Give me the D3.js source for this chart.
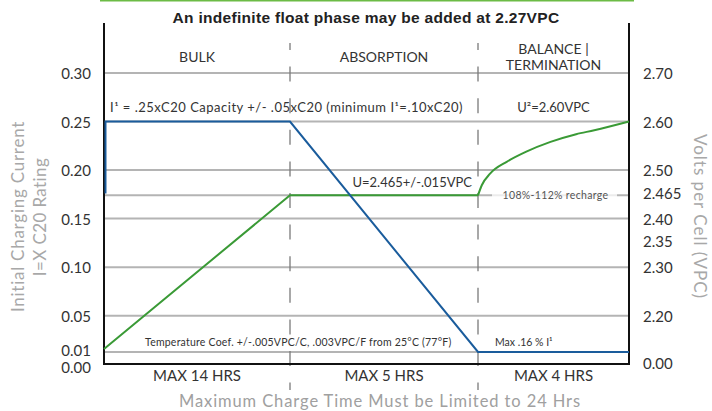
<!DOCTYPE html>
<html><head><meta charset="utf-8">
<script src="https://cdn.jsdelivr.net/npm/d3@7"></script>
<style>body{margin:0;background:#fff}svg{display:block}</style>
</head><body><svg id="c" width="712" height="411"></svg>
<script>
// ---------- data ----------
const title = "An indefinite float phase may be added at 2.27VPC";
const phaseNames = [["BULK"], ["ABSORPTION"], ["BALANCE |", "TERMINATION"]];
const phaseDurations = ["MAX 14 HRS", "MAX 5 HRS", "MAX 4 HRS"];
const phaseBounds = [0, 1, 2, 3];
const currentTicks = [0.00, 0.01, 0.05, 0.10, 0.15, 0.20, 0.25, 0.30];
const currentTickLabels = ["0.00", "0.01", "0.05", "0.10", "0.15", "0.20", "0.25", "0.30"];
const voltTicks = [0.00, 2.20, 2.30, 2.35, 2.40, 2.465, 2.50, 2.60, 2.70];
const voltTickLabels = ["0.00", "2.20", "2.30", "2.35", "2.40", "2.465", "2.50", "2.60", "2.70"];
const voltOnCurrent = [0.00, 0.05, 0.10, 0.127, 0.15, 0.174, 0.20, 0.25, 0.30];
const currentGrid = [0.01, 0.05, 0.10, 0.15, 0.20, 0.25, 0.30];
const voltGrid = [2.465];
// charging current (I x C20) vs phase position
const currentT = [0.008, 0.008, 1, 2, 3];
const currentV = [0.176, 0.25, 0.25, 0.01, 0.01];
// volts per cell vs phase position
const voltRampT = [0, 1, 2];
const voltRampV = [0.59, 2.465, 2.465];
const voltBalT = [2, 2.025, 2.08, 2.19, 2.32, 2.48, 2.65, 2.77, 3];
const voltBalV = [2.465, 2.479, 2.495, 2.517, 2.538, 2.558, 2.574, 2.582, 2.60];

// ---------- layout ----------
const FONT = "Lato, 'Open Sans', sans-serif";
const svg = d3.select("#c");
const x = d3.scaleLinear().domain(phaseBounds).range([104, 290, 478, 629]);
const y = d3.scaleLinear().domain([0, 0.01, 0.05, 0.30]).range([364, 352, 315.7, 73]);
const vToC = d3.scaleLinear().domain(voltTicks).range(voltOnCurrent);
const yV = v => y(vToC(v));
const axisTop = 23, axisBottom = y(0);

// top green rule
svg.append("line").attr("x1", 100).attr("x2", 634).attr("y1", 0.5).attr("y2", 0.5)
  .attr("stroke", "#6cbb45").attr("stroke-width", 2);

// title
svg.append("text").attr("x", 366).attr("y", 22.5).attr("text-anchor", "middle")
  .attr("font-family", "'Liberation Sans', Arial, sans-serif").attr("font-weight", "bold")
  .attr("font-size", 15.5).attr("letter-spacing", 0.3).attr("fill", "#222").text(title);

// gridlines
svg.append("g").selectAll("line").data(currentGrid).join("line")
  .attr("x1", x(0)).attr("x2", x(3)).attr("y1", d => y(d)).attr("y2", d => y(d))
  .attr("stroke", "#b4b4b4").attr("stroke-width", 2);
svg.append("g").selectAll("line").data(voltGrid).join("line")
  .attr("x1", x(0)).attr("x2", x(3)).attr("y1", d => yV(d)).attr("y2", d => yV(d))
  .attr("stroke", "#b4b4b4").attr("stroke-width", 2);

// phase dividers
svg.append("g").selectAll("line").data([1, 2]).join("line")
  .attr("x1", d => x(d)).attr("x2", d => x(d)).attr("y1", 35).attr("y2", 390)
  .attr("stroke", "#7a7a7a").attr("stroke-width", 1.3)
  .attr("stroke-dasharray", "15,16.6");
svg.append("g").selectAll("rect").data([1, 2]).join("rect")
  .attr("x", d => x(d) - 2).attr("y", 33).attr("width", 4).attr("height", 10).attr("fill", "#fff");

// recharge label on 2.465 line
const rg = svg.append("g");
rg.append("rect").attr("x", x(2) + 14).attr("y", yV(2.465) - 3).attr("width", x(3) - x(2) - 26).attr("height", 6)
  .attr("fill", "#fff").attr("opacity", 0.75);
rg.append("text").attr("x", (x(2) + x(3)) / 2 + 2).attr("y", yV(2.465) + 3.5).attr("text-anchor", "middle")
  .attr("font-family", FONT).attr("font-size", 10.5).attr("letter-spacing", 0.33).attr("fill", "#555")
  .text("108%-112% recharge");

// axes lines
svg.append("line").attr("x1", x(0)).attr("x2", x(0)).attr("y1", axisTop).attr("y2", axisBottom + 1)
  .attr("stroke", "#111").attr("stroke-width", 2);
svg.append("line").attr("x1", x(3)).attr("x2", x(3)).attr("y1", axisTop).attr("y2", axisBottom + 1)
  .attr("stroke", "#111").attr("stroke-width", 2);
svg.append("line").attr("x1", x(0) - 1).attr("x2", x(3) + 1).attr("y1", axisBottom).attr("y2", axisBottom)
  .attr("stroke", "#111").attr("stroke-width", 2);

// series
const lineC = d3.line().x(d => x(d[0])).y(d => y(d[1]));
const lineV = d3.line().x(d => x(d[0])).y(d => yV(d[1]));
svg.append("path").datum(voltRampT.map((t, i) => [t, voltRampV[i]]))
  .attr("d", lineV).attr("fill", "none").attr("stroke", "#3a9a36").attr("stroke-width", 2);
svg.append("path").datum(voltBalT.map((t, i) => [t, voltBalV[i]]))
  .attr("d", lineV.curve(d3.curveMonotoneX)).attr("fill", "none").attr("stroke", "#3a9a36").attr("stroke-width", 2);
svg.append("path").datum(currentT.map((t, i) => [t, currentV[i]]))
  .attr("d", lineC).attr("fill", "none").attr("stroke", "#1a5c9c").attr("stroke-width", 2);

// left tick labels
const nudgeL = {"0.00": 2.5, "0.01": -2};
svg.append("g").selectAll("text").data(currentTicks).join("text")
  .attr("x", 91).attr("y", (d, i) => y(d) + (nudgeL[currentTickLabels[i]] || 0)).attr("dy", "0.4em")
  .attr("text-anchor", "end").attr("font-family", FONT).attr("font-size", 15).attr("fill", "#333")
  .text((d, i) => currentTickLabels[i]);
// right tick labels
const nudgeR = {"2.465": -2.5, "0.00": -1.5};
svg.append("g").selectAll("text").data(voltTicks).join("text")
  .attr("x", 643).attr("y", (d, i) => yV(d) + (nudgeR[voltTickLabels[i]] || 0)).attr("dy", "0.4em")
  .attr("text-anchor", "start").attr("font-family", FONT).attr("font-size", 15).attr("fill", "#333")
  .text((d, i) => voltTickLabels[i]);

// phase names
phaseNames.forEach((lines, i) => {
  const cx = (x(i) + x(i + 1)) / 2;
  const base = lines.length === 1 ? 62 : 54;
  lines.forEach((ln, j) => {
    svg.append("text").attr("x", cx).attr("y", base + j * 16).attr("text-anchor", "middle")
      .attr("font-family", FONT).attr("font-size", 14).attr("fill", "#333").text(ln);
  });
});
// durations
phaseDurations.forEach((d, i) => {
  svg.append("text").attr("x", (x(i) + x(i + 1)) / 2).attr("y", 381).attr("text-anchor", "middle")
    .attr("font-family", FONT).attr("font-size", 15).attr("fill", "#333").text(d);
});

// annotations
const ann = svg.append("g").attr("font-family", FONT).attr("fill", "#333");
ann.append("text").attr("x", x(0) + 6).attr("y", y(0.25) - 10).attr("font-size", 13).attr("letter-spacing", 0.5)
  .text("I\u00B9 = .25xC20 Capacity +/- .05xC20 (minimum I\u00B9=.10xC20)");
ann.append("text").attr("x", (x(2) + x(3)) / 2).attr("y", y(0.25) - 10).attr("font-size", 13)
  .attr("text-anchor", "middle").text("U\u00B2=2.60VPC");
ann.append("text").attr("x", x(2) - 6).attr("y", yV(2.465) - 8.5).attr("font-size", 13)
  .attr("text-anchor", "end").text("U=2.465+/-.015VPC");
ann.append("text").attr("x", 145).attr("y", 346).attr("font-size", 10.5).attr("letter-spacing", 0.22)
  .text("Temperature Coef. +/-.005VPC/C, .003VPC/F from 25\u00B0C (77\u00B0F)");
ann.append("text").attr("x", x(2) + 17).attr("y", 346).attr("font-size", 10.5)
  .text("Max .16 % I\u00B9");

// axis titles
svg.append("text").attr("x", 380).attr("y", 406.5).attr("text-anchor", "middle")
  .attr("font-family", FONT).attr("font-size", 16.5).attr("letter-spacing", 0.9).attr("fill", "#a0a0a0")
  .text("Maximum Charge Time Must be Limited to 24 Hrs");
const lt = svg.append("g").attr("font-family", FONT).attr("font-size", 17).attr("fill", "#a8a8a8")
  .attr("text-anchor", "middle");
lt.append("text").attr("transform", "translate(24,216.5) rotate(-90)").attr("letter-spacing", 0.75)
  .text("Initial Charging Current");
lt.append("text").attr("transform", "translate(46,217) rotate(-90)").attr("letter-spacing", 0.4)
  .text("I=X C20 Rating");
svg.append("text").attr("transform", "translate(694,216.5) rotate(90)").attr("text-anchor", "middle")
  .attr("font-family", FONT).attr("font-size", 17).attr("letter-spacing", 1).attr("fill", "#a8a8a8")
  .text("Volts per Cell (VPC)");
</script></body></html>
